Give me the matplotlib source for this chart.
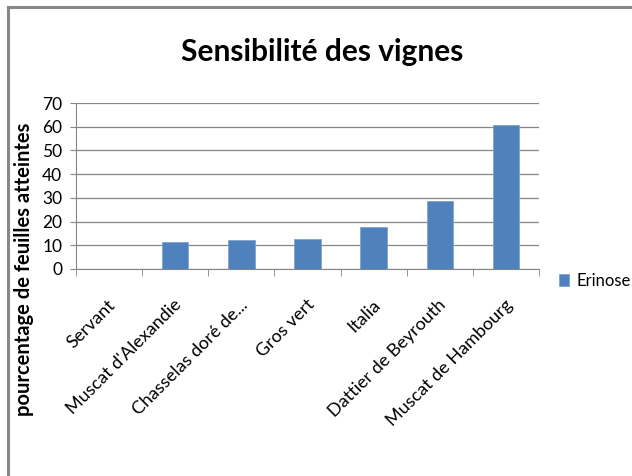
import matplotlib
matplotlib.use('Agg')
import matplotlib.pyplot as plt
import matplotlib.transforms as mtransforms
from matplotlib.lines import Line2D

plt.rcParams['font.family'] = ['Lato', 'DejaVu Sans']

varietes = ['Servant', "Muscat d'Alexandie", 'Chasselas doré de...', 'Gros vert',
            'Italia', 'Dattier de Beyrouth', 'Muscat de Hambourg']
erinose = [0, 11.5, 12.2, 12.8, 17.6, 28.8, 60.9]
y_ticks = [0, 10, 20, 30, 40, 50, 60, 70]

fig = plt.figure(figsize=(6.32, 4.76), dpi=100)
ax = fig.add_axes([0.1203, 0.4349, 0.7326, 0.3487])

x = range(len(varietes))
bars = ax.bar(x, erinose, width=0.4, color='#4F81BD', edgecolor='#7FA3D0',
              linewidth=0.6, label='Erinose', zorder=3)

ax.set_xlim(-0.5, len(varietes) - 0.5)
ax.set_ylim(0, 70)
ax.set_yticks(y_ticks)
ax.tick_params(axis='y', labelsize=12.5, length=4, color='#868686', pad=6)
ax.yaxis.grid(True, color='#868686', linewidth=0.9, zorder=0)

ax.set_xticks(list(x))
ax.set_xticklabels(varietes, rotation=45, ha='right', va='center',
                   rotation_mode='anchor', fontsize=13)
ax.tick_params(axis='x', which='major', length=0, pad=24)
ax.set_xticks([i - 0.5 for i in range(len(varietes) + 1)], minor=True)
ax.tick_params(axis='x', which='minor', length=5, color='#868686')

# petit décalage des étiquettes vers la droite
decal = mtransforms.ScaledTranslation(4 / 100, 0, fig.dpi_scale_trans)
for lab in ax.get_xticklabels():
    lab.set_transform(lab.get_transform() + decal)

for side in ['top', 'right']:
    ax.spines[side].set_visible(False)
for side in ['left', 'bottom']:
    ax.spines[side].set_color('#868686')

fig.text(0.51, 0.89, 'Sensibilité des vignes', ha='center', va='center',
         fontsize=21.5, fontweight='bold')
fig.text(0.038, 0.435, 'pourcentage de feuilles atteintes', rotation=90,
         ha='center', va='center', fontsize=14.5, fontweight='bold')

leg = fig.legend(handles=[bars], labels=['Erinose'], loc='center left',
                 bbox_to_anchor=(0.86, 0.41), frameon=False, fontsize=12,
                 handlelength=0.6, handleheight=0.7, handletextpad=0.5)

# cadre gris en haut et à gauche
fig.add_artist(Line2D([0.013, 1.0], [0.985, 0.985], color='#888888', linewidth=2.2))
fig.add_artist(Line2D([0.013, 0.013], [0.0, 0.985], color='#888888', linewidth=2.2))

fig.savefig('out.png', dpi=100)
